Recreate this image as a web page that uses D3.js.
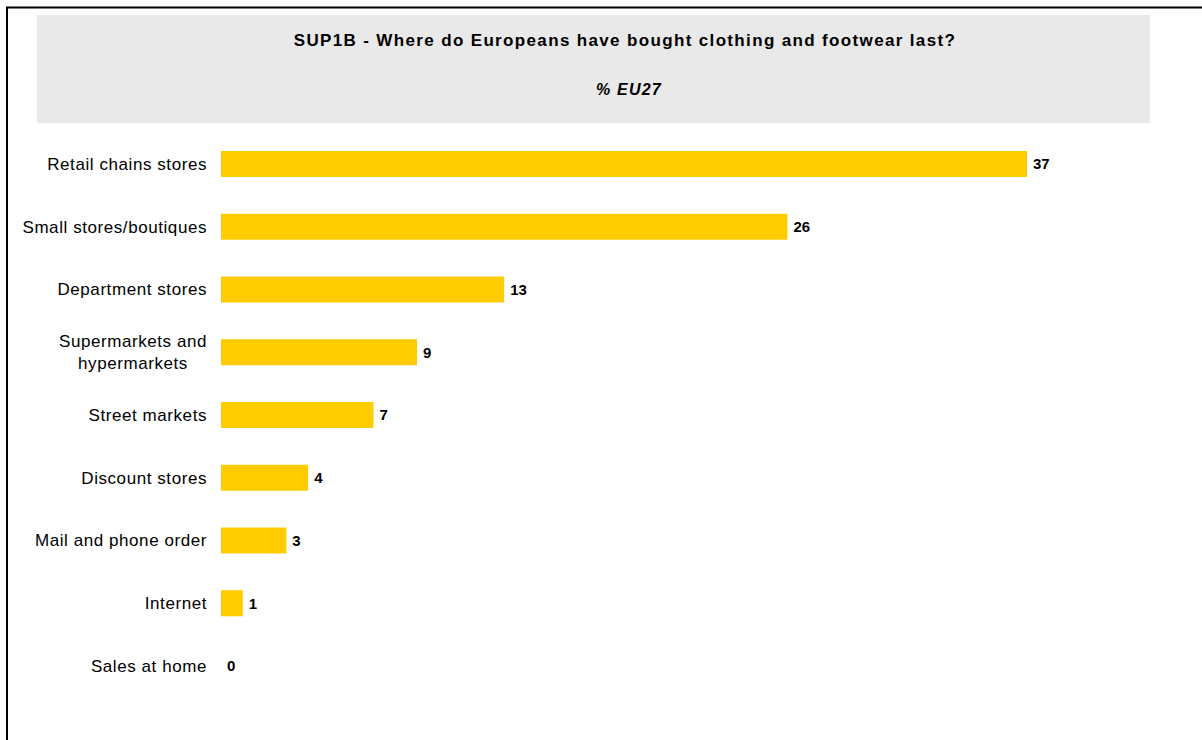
<!DOCTYPE html>
<html>
<head>
<meta charset="utf-8">
<script src="https://cdn.jsdelivr.net/npm/d3@7"></script>
<style>
  html, body { margin: 0; padding: 0; background: #fff; }
  svg { display: block; font-family: "Liberation Sans", Arial, sans-serif; }
</style>
</head>
<body>
<svg id="chart" width="1202" height="740"></svg>
<script>
// Where Europeans last bought clothing and footwear (% EU27)
const categories = [
  "Retail chains stores",
  "Small stores/boutiques",
  "Department stores",
  "Supermarkets and hypermarkets",
  "Street markets",
  "Discount stores",
  "Mail and phone order",
  "Internet",
  "Sales at home"
];
const values = [37, 26, 13, 9, 7, 4, 3, 1, 0];
const chartTitle = "SUP1B - Where do Europeans have bought clothing and footwear last?";
const chartSubtitle = "% EU27";

const svg = d3.select("#chart");

// outer frame (left and top rules)
svg.append("line").attr("x1", 7).attr("x2", 7).attr("y1", 7).attr("y2", 740)
  .attr("stroke", "#000").attr("stroke-width", 2);
svg.append("line").attr("x1", 6).attr("x2", 1202).attr("y1", 7.5).attr("y2", 7.5)
  .attr("stroke", "#000").attr("stroke-width", 2);

// title panel
svg.append("rect").attr("x", 37).attr("y", 15).attr("width", 1113).attr("height", 108)
  .attr("fill", "#e9e9e9");
svg.append("text").attr("x", 625).attr("y", 46).attr("text-anchor", "middle")
  .attr("font-size", 17).attr("font-weight", "bold").attr("fill", "#000")
  .attr("letter-spacing", 1.35)
  .text(chartTitle);
svg.append("text").attr("x", 629).attr("y", 95).attr("text-anchor", "middle")
  .attr("font-size", 16).attr("font-weight", "bold").attr("font-style", "italic").attr("fill", "#000")
  .attr("letter-spacing", 1.2)
  .text(chartSubtitle);

const x0 = 221;
const x = d3.scaleLinear().domain([0, 37]).range([x0, 1027]);
const y = d3.scaleBand().domain(categories).range([132.6, 697.4])
  .paddingInner(0.5857).paddingOuter(0.29285);

const rows = svg.append("g").selectAll("g").data(categories).join("g");

rows.append("rect")
  .attr("x", x0)
  .attr("y", d => y(d))
  .attr("width", (d, i) => x(values[i]) - x0)
  .attr("height", y.bandwidth())
  .attr("fill", "#ffcc00");

rows.append("text")
  .attr("x", (d, i) => x(values[i]) + 6)
  .attr("y", d => y(d) + y.bandwidth() / 2)
  .attr("dy", "0.36em")
  .attr("font-size", 15).attr("font-weight", "bold").attr("fill", "#000")
  .text((d, i) => values[i]);

// category labels; long ones wrap onto two centred lines
const wrapped = { "Supermarkets and hypermarkets": ["Supermarkets and", "hypermarkets"] };
const labelRight = 207;
rows.append("text")
  .attr("font-size", 17).attr("fill", "#000")
  .attr("letter-spacing", 0.57)
  .each(function (d) {
    const lines = wrapped[d] || [d];
    const cy = y(d) + y.bandwidth() / 2;
    const t = d3.select(this);
    const lh = 22;
    if (lines.length === 1) {
      t.attr("text-anchor", "end").attr("x", labelRight).attr("y", cy).attr("dy", "0.35em").text(d);
      return;
    }
    // measure the widest line to find the block's centre
    const spans = lines.map((ln, k) => t.append("tspan")
      .attr("y", cy + (k - (lines.length - 1) / 2) * lh)
      .attr("dy", "0.35em")
      .text(ln));
    const widths = spans.map(s => s.node().getComputedTextLength());
    const centre = labelRight - d3.max(widths) / 2;
    t.attr("text-anchor", "middle");
    spans.forEach(s => s.attr("x", centre));
  });
</script>
</body>
</html>
